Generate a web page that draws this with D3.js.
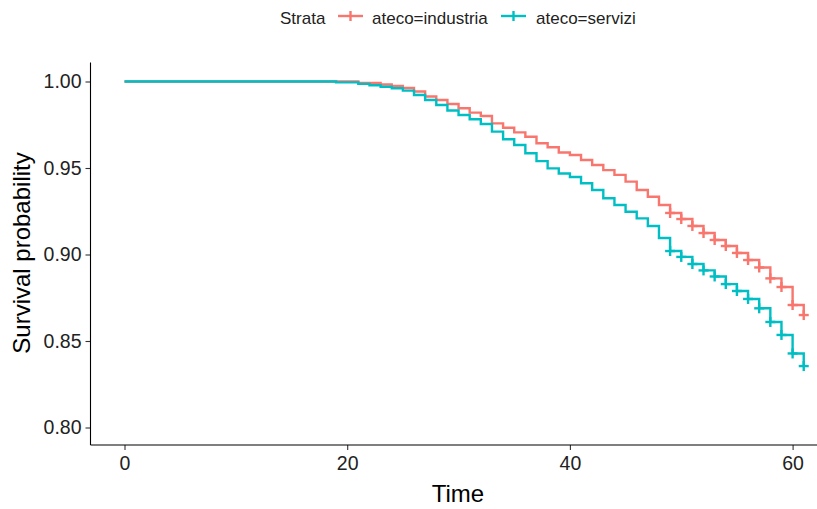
<!DOCTYPE html>
<html>
<head>
<meta charset="utf-8">
<script src="https://cdn.jsdelivr.net/npm/d3@7"></script>
<style>
  html, body { margin: 0; padding: 0; background: #fff; }
  svg { display: block; font-family: "Liberation Sans", Arial, sans-serif; }
</style>
</head>
<body>
<svg id="chart" width="817" height="509"></svg>
<script>
// ---- data ----
const strataLabels = ["ateco=industria", "ateco=servizi"];
const strataColors = ["#F8766D", "#00BFC4"];

const industriaTime = [0, 21, 23, 24, 25, 26, 27, 28, 29, 30, 31, 32, 33, 34, 35, 36, 37, 38, 39, 40,
  41, 42, 43, 44, 45, 46, 47, 48, 49, 50, 51, 52, 53, 54, 55, 56, 57, 58, 59, 60, 61];
const industriaSurv = [1.0, 0.9991, 0.9983, 0.9974, 0.9962, 0.9942, 0.9913, 0.9893, 0.9870, 0.9845,
  0.9820, 0.9801, 0.9758, 0.9733, 0.9706, 0.9681, 0.9643, 0.9620, 0.9590, 0.9575,
  0.9546, 0.9517, 0.9488, 0.9460, 0.9421, 0.9373, 0.9334, 0.9286, 0.9240, 0.9205,
  0.9165, 0.9124, 0.9084, 0.9049, 0.9009, 0.8968, 0.8925, 0.8862, 0.8812, 0.8708, 0.8650];
const industriaCensor = [49, 50, 51, 52, 53, 54, 55, 56, 57, 58, 59, 60, 61];

const serviziTime = [0, 19, 21, 22, 23, 24, 25, 26, 27, 28, 29, 30, 31, 32, 33, 34, 35, 36, 37, 38, 39, 40,
  41, 42, 43, 44, 45, 46, 47, 48, 49, 50, 51, 52, 53, 54, 55, 56, 57, 58, 59, 60, 61];
const serviziSurv = [1.0, 0.9995, 0.9986, 0.9978, 0.9970, 0.9961, 0.9947, 0.9922, 0.9893, 0.9864,
  0.9832, 0.9806, 0.9782, 0.9754, 0.9710, 0.9666, 0.9633, 0.9585, 0.9540, 0.9498, 0.9468, 0.9448,
  0.9412, 0.9373, 0.9325, 0.9286, 0.9247, 0.9209, 0.9165, 0.9095, 0.9020, 0.8986,
  0.8945, 0.8908, 0.8873, 0.8829, 0.8789, 0.8743, 0.8689, 0.8610, 0.8535, 0.8428, 0.8355];
const serviziCensor = [49, 50, 51, 52, 53, 54, 55, 56, 57, 58, 59, 60, 61];

const xTicks = [0, 20, 40, 60];
const yTicks = [0.80, 0.85, 0.90, 0.95, 1.00];

// ---- layout ----
const svg = d3.select("#chart");
const panel = { left: 90.5, right: 817, top: 62.5, bottom: 445 };

const x = d3.scaleLinear().domain([0, 60]).range([124.5, 792.6]);
const y = d3.scaleLinear().domain([0.80, 1.00]).range([427.5, 81.5]);

// axes
const gx = svg.append("g").attr("transform", `translate(0,${panel.bottom})`)
  .call(d3.axisBottom(x).tickValues(xTicks).tickFormat(d3.format("d")).tickSize(5).tickPadding(6));
gx.select(".domain").remove();
gx.append("line").attr("x1", panel.left).attr("x2", panel.right).attr("y1", 0).attr("y2", 0)
  .attr("stroke", "#000").attr("stroke-width", 1.1);
gx.selectAll(".tick line").attr("stroke", "#333").attr("stroke-width", 1.1);
gx.selectAll(".tick text").attr("font-size", "19.5px").attr("fill", "#222")
  .attr("font-family", "Liberation Sans, Arial, sans-serif");

const gy = svg.append("g").attr("transform", `translate(${panel.left},0)`)
  .call(d3.axisLeft(y).tickValues(yTicks).tickFormat(d3.format(".2f")).tickSize(5).tickPadding(4));
gy.select(".domain").remove();
gy.append("line").attr("x1", 0).attr("x2", 0).attr("y1", panel.top).attr("y2", panel.bottom)
  .attr("stroke", "#000").attr("stroke-width", 1.1);
gy.selectAll(".tick line").attr("stroke", "#333").attr("stroke-width", 1.1);
gy.selectAll(".tick text").attr("font-size", "19.5px").attr("fill", "#222")
  .attr("font-family", "Liberation Sans, Arial, sans-serif");

// axis titles
svg.append("text").attr("x", 458).attr("y", 502).attr("text-anchor", "middle")
  .attr("font-size", "24px").attr("fill", "#000").text("Time");
svg.append("text").attr("transform", "translate(30,253) rotate(-90)").attr("text-anchor", "middle")
  .attr("font-size", "24px").attr("fill", "#000").text("Survival probability");

// curves
const series = [
  { t: industriaTime, s: industriaSurv, c: industriaCensor, color: strataColors[0] },
  { t: serviziTime, s: serviziSurv, c: serviziCensor, color: strataColors[1] }
];
const line = d3.line().x(d => x(d[0])).y(d => y(d[1])).curve(d3.curveStepAfter);
const survAt = (ser, tt) => { let v = ser.s[0]; ser.t.forEach((ti, i) => { if (ti <= tt) v = ser.s[i]; }); return v; };

series.forEach(ser => {
  const pts = ser.t.map((ti, i) => [ti, ser.s[i]]);
  svg.append("path").attr("d", line(pts)).attr("fill", "none")
    .attr("stroke", ser.color).attr("stroke-width", 2.4);
});
series.forEach(ser => {
  const g = svg.append("g");
  ser.c.forEach(tt => {
    const cx = x(tt), cy = y(survAt(ser, tt));
    g.append("line").attr("x1", cx - 5).attr("x2", cx + 5).attr("y1", cy).attr("y2", cy)
      .attr("stroke", ser.color).attr("stroke-width", 2.4);
    g.append("line").attr("x1", cx).attr("x2", cx).attr("y1", cy - 5).attr("y2", cy + 5)
      .attr("stroke", ser.color).attr("stroke-width", 2.4);
  });
});

// legend
const lg = svg.append("g");
lg.append("text").attr("x", 280).attr("y", 23.5).attr("font-size", "17px").attr("fill", "#222").text("Strata");
const keyX = [338, 501];
const labX = [372, 536];
strataLabels.forEach((lab, i) => {
  lg.append("line").attr("x1", keyX[i]).attr("x2", keyX[i] + 25).attr("y1", 16).attr("y2", 16)
    .attr("stroke", strataColors[i]).attr("stroke-width", 2.4);
  lg.append("line").attr("x1", keyX[i] + 12.5).attr("x2", keyX[i] + 12.5).attr("y1", 11).attr("y2", 21)
    .attr("stroke", strataColors[i]).attr("stroke-width", 2.4);
  lg.append("text").attr("x", labX[i]).attr("y", 23.5).attr("font-size", "17px").attr("fill", "#222").text(lab);
});
</script>
</body>
</html>
